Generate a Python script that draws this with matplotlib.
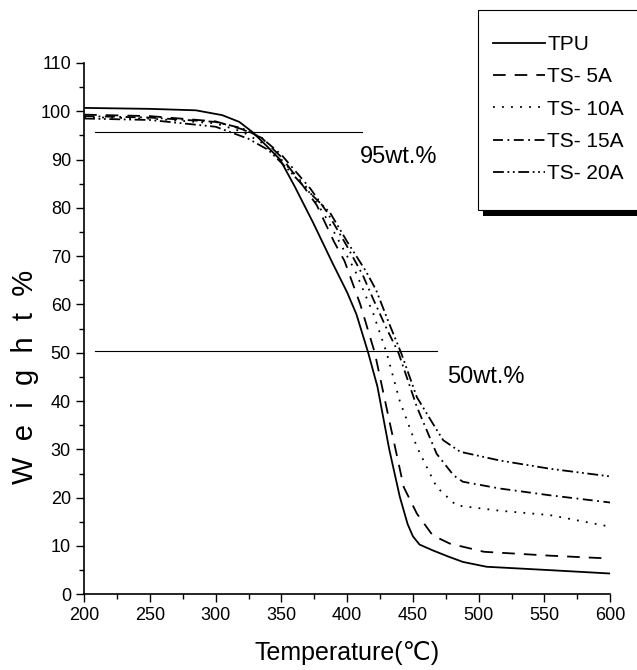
import matplotlib
matplotlib.use('Agg')
import matplotlib.pyplot as plt
from matplotlib.patches import Rectangle
from matplotlib.ticker import MultipleLocator

plt.rcParams['font.family'] = ['Liberation Sans', 'DejaVu Sans']

# TGA curves: temperature (C), weight (%)
tpu_t = [200, 250, 285, 305, 318, 328, 340, 349, 360, 374, 389, 400, 407, 416, 423,
         432, 440, 446, 450, 455, 465, 477, 488, 506, 554, 600]
tpu_w = [100.7, 100.5, 100.2, 99.2, 97.8, 95.7, 92.5, 90.0, 84.5, 77.0, 68.5, 62.5, 58.0,
         50.0, 43.0, 30.0, 20.2, 14.5, 12.0, 10.3, 9.1, 7.8, 6.7, 5.7, 5.0, 4.3]

ts5_t = [200, 250, 300, 320, 335, 350, 368, 377, 390, 398, 410, 421, 432, 443, 453,
         465, 478, 504, 554, 600]
ts5_w = [99.3, 99.0, 97.9, 96.3, 94.5, 90.5, 84.0, 80.5, 73.0, 69.0, 60.0, 50.0, 36.0,
         22.2, 16.7, 12.2, 10.5, 8.8, 8.0, 7.4]

ts10_t = [200, 250, 300, 320, 335, 350, 370, 385, 398, 406, 420, 430, 440, 453, 468,
          483, 516, 554, 600]
ts10_w = [98.8, 98.5, 97.5, 95.8, 93.5, 90.0, 84.0, 77.5, 71.0, 67.0, 58.0, 50.0, 40.0,
          30.5, 22.2, 18.4, 17.3, 16.4, 14.0]

ts15_t = [200, 250, 300, 320, 335, 350, 372, 385, 400, 412, 420, 430, 439, 453, 468,
          481, 488, 516, 554, 600]
ts15_w = [99.0, 98.7, 97.8, 96.5, 94.5, 91.0, 84.0, 79.0, 72.0, 66.0, 61.0, 55.0, 50.0,
          38.8, 29.1, 24.6, 23.3, 21.9, 20.5, 19.0]

ts20_t = [200, 250, 300, 315, 325, 340, 355, 372, 387, 400, 414, 422, 432, 441, 453,
          465, 473, 486, 516, 554, 600]
ts20_w = [98.5, 98.2, 96.8, 95.3, 94.3, 92.0, 88.0, 83.0, 79.0, 73.0, 67.0, 63.0, 56.0,
          50.0, 40.8, 35.4, 31.9, 29.5, 27.7, 26.0, 24.4]

labels = ['TPU', 'TS- 5A', 'TS- 10A', 'TS- 15A', 'TS- 20A']

fig = plt.figure(figsize=(6.37, 6.70), dpi=100)
ax = fig.add_axes([0.132, 0.113, 0.826, 0.793])

lw = 1.3
ax.plot(tpu_t, tpu_w, color='black', lw=lw, ls='-', label=labels[0])
ax.plot(ts5_t, ts5_w, color='black', lw=lw, ls=(0, (7, 5)), label=labels[1])
ax.plot(ts10_t, ts10_w, color='black', lw=lw, ls=(0, (1, 4)), label=labels[2])
ax.plot(ts15_t, ts15_w, color='black', lw=lw, ls=(0, (5.5, 2.5, 1, 2.5)), label=labels[3])
ax.plot(ts20_t, ts20_w, color='black', lw=lw, ls=(0, (6, 2, 1, 2, 1, 2)), label=labels[4])

# reference levels
ax.plot([208, 411], [95.7, 95.7], color='black', lw=0.8)
ax.plot([208, 468], [50.3, 50.3], color='black', lw=0.8)
ax.text(410, 90.5, '95wt.%', fontsize=17, va='center', ha='left')
ax.text(476, 45, '50wt.%', fontsize=17, va='center', ha='left')

ax.set_xlim(200, 600)
ax.set_ylim(0, 110)
ax.xaxis.set_major_locator(MultipleLocator(50))
ax.xaxis.set_minor_locator(MultipleLocator(25))
ax.yaxis.set_major_locator(MultipleLocator(10))
ax.yaxis.set_minor_locator(MultipleLocator(5))
ax.tick_params(which='major', direction='out', length=6, width=1, labelsize=13)
ax.tick_params(which='minor', direction='out', length=3.5, width=1)
for side in ['top', 'right']:
    ax.spines[side].set_visible(False)
for side in ['left', 'bottom']:
    ax.spines[side].set_linewidth(1.2)

ax.set_xlabel('Temperature(℃)', fontsize=18, labelpad=12)
ax.set_ylabel('W  e  i  g  h  t  %', fontsize=21)
ax.yaxis.set_label_coords(-0.086, 0.41)

# legend box with a drop shadow, running off the right edge
W, H = 637.0, 670.0
fig.patches.append(Rectangle((483 / W, 1 - 216 / H), 0.3, 200 / H, transform=fig.transFigure,
                             facecolor='black', edgecolor='none', zorder=1))
fig.patches.append(Rectangle((478 / W, 1 - 210 / H), 0.3, 200 / H, transform=fig.transFigure,
                             facecolor='white', edgecolor='black', lw=0.8, zorder=2))
leg = fig.legend(loc='upper left', bbox_to_anchor=(478 / W, 1 - 20 / H), fontsize=15,
                 frameon=False, handlelength=2.5, handletextpad=0.1,
                 labelspacing=0.64, borderpad=0.72, borderaxespad=0)
leg.set_zorder(3)

fig.savefig('out.png', dpi=100)
